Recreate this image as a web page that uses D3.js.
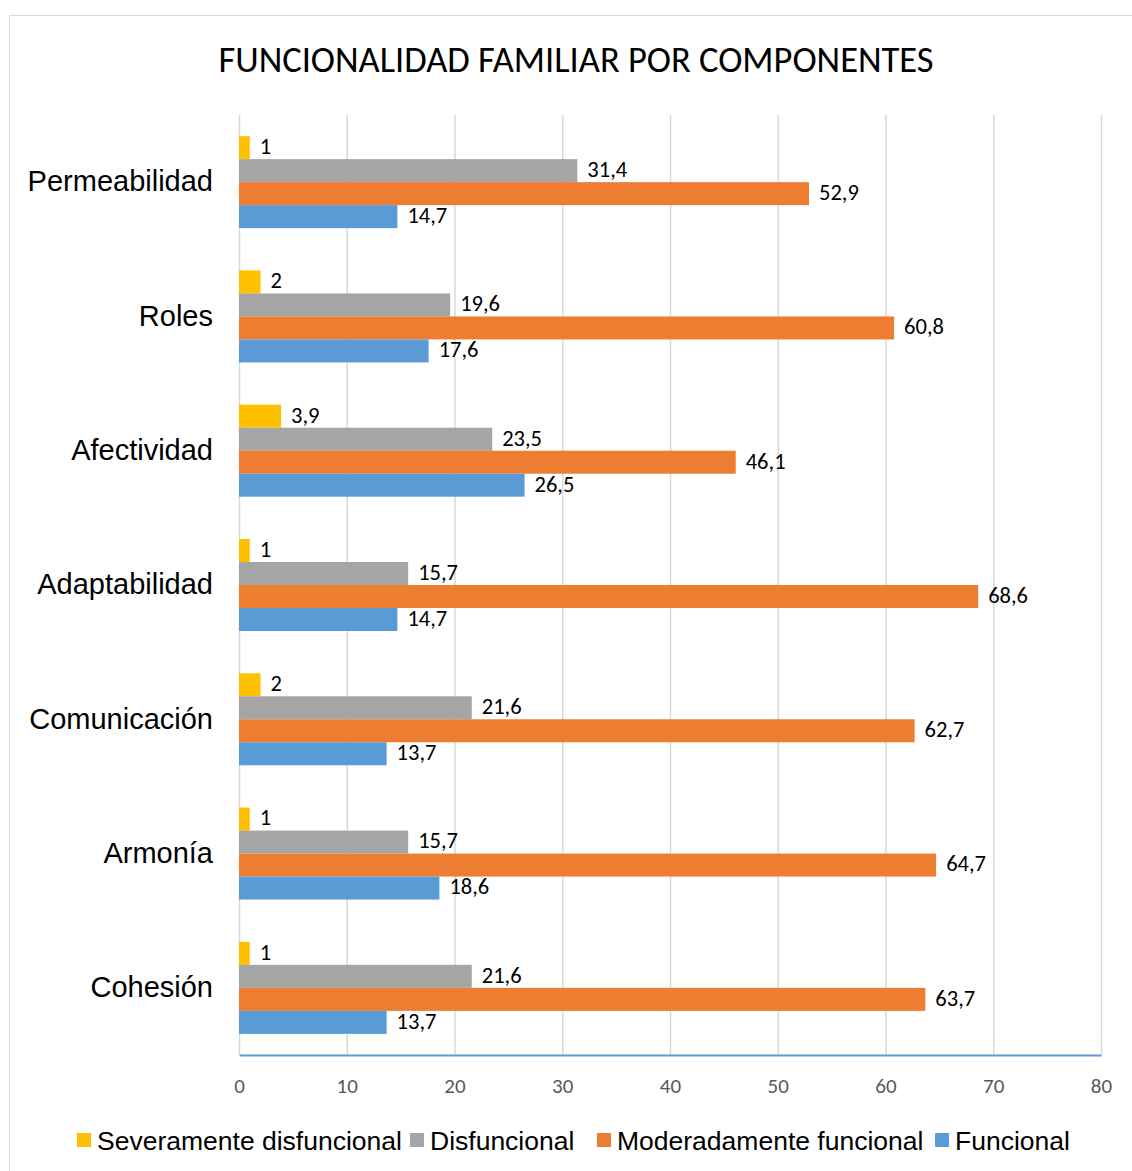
<!DOCTYPE html>
<html>
<head>
<meta charset="utf-8">
<script src="https://cdn.jsdelivr.net/npm/d3@7"></script>
<style>
  body { margin: 0; background: #fff; }
  svg { display: block; }
</style>
</head>
<body>
<svg id="chart" width="1132" height="1171"></svg>
<script>
// categorias, de arriba hacia abajo
const categories = ["Permeabilidad", "Roles", "Afectividad", "Adaptabilidad", "Comunicación", "Armonía", "Cohesión"];
const seriesNames = ["Severamente disfuncional", "Disfuncional", "Moderadamente funcional", "Funcional"];
const seriesColors = ["#FFC000", "#A5A5A5", "#ED7D31", "#5B9BD5"];

const severamente = [1, 2, 3.9, 1, 2, 1, 1];
const disfuncional = [31.4, 19.6, 23.5, 15.7, 21.6, 15.7, 21.6];
const moderadamente = [52.9, 60.8, 46.1, 68.6, 62.7, 64.7, 63.7];
const funcional = [14.7, 17.6, 26.5, 14.7, 13.7, 18.6, 13.7];
const xTicks = [0, 10, 20, 30, 40, 50, 60, 70, 80];

const seriesValues = [severamente, disfuncional, moderadamente, funcional];

const svg = d3.select("#chart");

// borde del area del grafico
svg.append("path")
    .attr("d", "M9.5,1171 L9.5,15.5 L1132,15.5")
    .attr("fill", "none")
    .attr("stroke", "#D9D9D9")
    .attr("stroke-width", 1);

svg.append("text")
    .attr("x", 576)
    .attr("y", 72)
    .attr("text-anchor", "middle")
    .style("font-family", "Carlito, Lato, sans-serif")
    .style("font-size", "36.5px")
    .attr("fill", "#000")
    .text("FUNCIONALIDAD FAMILIAR POR COMPONENTES");

const plotLeft = 239, plotRight = 1101, plotTop = 115, plotBottom = 1055;

const x = d3.scaleLinear().domain([0, 80]).range([plotLeft, plotRight]);
const y = d3.scaleBand().domain(categories).range([plotTop, plotBottom]).paddingInner(0.315).paddingOuter(0.1575);
const ySub = d3.scaleBand().domain(d3.range(seriesNames.length)).range([0, y.bandwidth()]);

// lineas de cuadricula
svg.append("g")
    .selectAll("line")
    .data(xTicks)
    .join("line")
    .attr("x1", d => x(d) + 0.5)
    .attr("x2", d => x(d) + 0.5)
    .attr("y1", plotTop)
    .attr("y2", plotBottom)
    .attr("stroke", "#D9D9D9")
    .attr("stroke-width", 1.5);

// barras
categories.forEach((cat, ci) => {
    const g = svg.append("g").attr("transform", `translate(0,${y(cat)})`);
    seriesValues.forEach((vals, si) => {
        g.append("rect")
            .attr("x", x(0))
            .attr("y", ySub(si))
            .attr("width", x(vals[ci]) - x(0))
            .attr("height", ySub.bandwidth())
            .attr("fill", seriesColors[si]);
        g.append("text")
            .attr("x", x(vals[ci]) + 10)
            .attr("y", ySub(si) + ySub.bandwidth() / 2 + 1)
            .attr("dominant-baseline", "middle")
            .style("font-family", "Carlito, Lato, sans-serif")
            .style("font-size", "22.5px")
            .attr("fill", "#000")
            .text(String(vals[ci]).replace(".", ","));
    });
});

// eje y (etiquetas de categoria)
const yAxis = svg.append("g")
    .attr("transform", `translate(${plotLeft},0)`)
    .call(d3.axisLeft(y).tickSize(0).tickPadding(26));
yAxis.select(".domain").remove();
yAxis.selectAll("text")
    .style("font-family", "Liberation Sans, Arial, sans-serif")
    .style("font-size", "29px")
    .attr("fill", "#000");

// eje x
const xAxis = svg.append("g")
    .attr("transform", `translate(0,${plotBottom})`)
    .call(d3.axisBottom(x).tickValues(xTicks).tickSize(0).tickPadding(23));
xAxis.select(".domain")
    .attr("stroke", "#5B9BD5")
    .attr("stroke-width", 2);
xAxis.selectAll("text")
    .style("font-family", "Carlito, Lato, sans-serif")
    .style("font-size", "21px")
    .attr("fill", "#595959");

// leyenda
const legendX = [77, 410, 597, 935];
const legend = svg.append("g");
seriesNames.forEach((name, i) => {
    legend.append("rect")
        .attr("x", legendX[i])
        .attr("y", 1133)
        .attr("width", 14)
        .attr("height", 14)
        .attr("fill", seriesColors[i]);
    legend.append("text")
        .attr("x", legendX[i] + 20)
        .attr("y", 1150)
        .style("font-family", "Liberation Sans, Arial, sans-serif")
        .style("font-size", "26.5px")
        .attr("fill", "#000")
        .text(name);
});
</script>
</body>
</html>
